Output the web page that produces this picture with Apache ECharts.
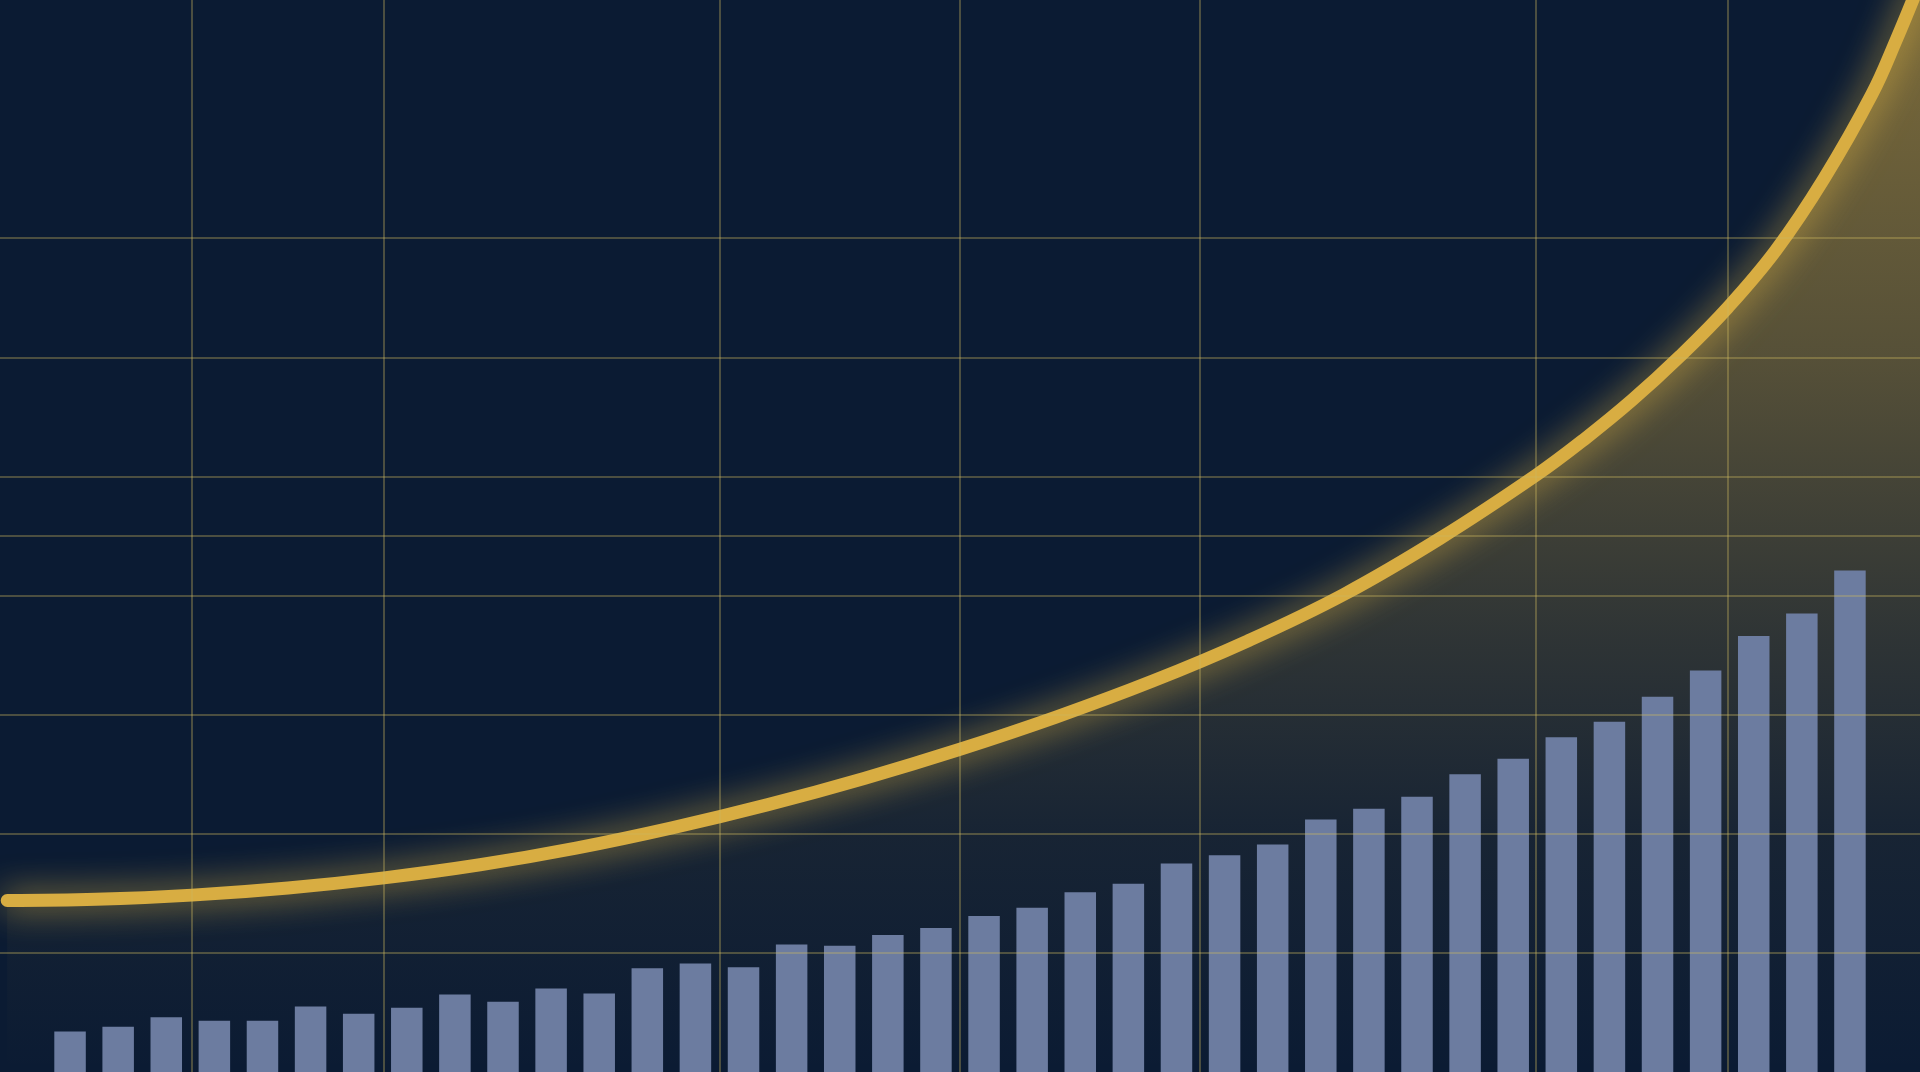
<!DOCTYPE html>
<html>
<head>
<meta charset="utf-8">
<style>
  html, body { margin: 0; padding: 0; background: #0b1b33; }
  #chart { width: 1920px; height: 1072px; }
</style>
<script src="https://cdn.jsdelivr.net/npm/echarts@6/dist/echarts.min.js"></script>
</head>
<body>
<div id="chart"></div>
<script>
// ---- data ----
const categories = ['1','2','3','4','5','6','7','8','9','10','11','12','13','14','15','16','17','18','19','20',
  '21','22','23','24','25','26','27','28','29','30','31','32','33','34','35','36','37','38'];
const barValues = [3.4, 3.8, 4.6, 4.3, 4.3, 5.5, 4.9, 5.4, 6.5, 5.9, 7.0, 6.6, 8.7, 9.1, 8.8, 10.7, 10.6, 11.5, 12.1, 13.1,
  13.8, 15.1, 15.8, 17.5, 18.2, 19.1, 21.2, 22.1, 23.1, 25.0, 26.3, 28.1, 29.4, 31.5, 33.7, 36.6, 38.5, 42.1];
const lineX = [0.15, 2, 4, 6, 8, 10, 12, 14, 16, 18, 20, 22, 24, 26, 28, 30, 32, 33, 34, 35, 36, 37, 38, 39, 39.5, 40];
const lineY = [14.4, 14.5, 14.85, 15.45, 16.3, 17.4, 18.8, 20.5, 22.45, 24.65, 27.1, 29.8, 32.8, 36.2, 40.1, 44.8,
  50.1, 53.1, 56.4, 60.1, 64.2, 69.0, 75.0, 82.1, 86.6, 91.5];
const gridXValues = [4, 8, 15, 20, 25, 32, 36];
const gridYValues = [10, 20, 30, 40, 45, 50, 60, 70];

const yMax = 90;
const xMax = 40;

const chart = echarts.init(document.getElementById('chart'), null, { renderer: 'canvas' });

const gridColor = 'rgba(205,185,95,0.45)';
const hiddenAxis = {
  axisLine: { show: false }, axisTick: { show: false },
  axisLabel: { show: false }, splitLine: { show: false }
};

const linePoints = lineX.map((x, i) => [x, lineY[i]]);

const markData = [];
gridXValues.forEach(v => markData.push({ xAxis: v }));
gridYValues.forEach(v => markData.push({ yAxis: v }));

chart.setOption({
  backgroundColor: '#0b1b33',
  animation: false,
  grid: [
    { left: 46, right: 46, top: -2, bottom: -2 },
    { left: 0, right: 0, top: -2, bottom: -2 }
  ],
  xAxis: [
    Object.assign({ type: 'category', data: categories, gridIndex: 0, boundaryGap: true }, hiddenAxis),
    Object.assign({ type: 'value', min: 0, max: xMax, gridIndex: 1 }, hiddenAxis)
  ],
  yAxis: [
    Object.assign({ type: 'value', min: 0, max: yMax, gridIndex: 0 }, hiddenAxis),
    Object.assign({ type: 'value', min: 0, max: yMax, gridIndex: 1 }, hiddenAxis)
  ],
  series: [
    {
      name: 'grid',
      type: 'line',
      xAxisIndex: 1, yAxisIndex: 1,
      data: [],
      z: 1,
      silent: true,
      markLine: {
        silent: true,
        symbol: 'none',
        label: { show: false },
        lineStyle: { color: gridColor, width: 1.5, type: 'solid' },
        emphasis: { disabled: true },
        data: markData
      }
    },
    {
      name: 'trend',
      type: 'line',
      xAxisIndex: 1, yAxisIndex: 1,
      data: linePoints,
      smooth: 0.4,
      showSymbol: false,
      clip: false,
      z: 2,
      lineStyle: {
        color: '#d8ad42',
        width: 13,
        cap: 'round',
        shadowBlur: 34,
        shadowColor: 'rgba(238,192,70,0.8)'
      },
      areaStyle: {
        color: new echarts.graphic.LinearGradient(0, 0, 0, 1, [
          { offset: 0, color: 'rgba(214,171,64,0.8)' },
          { offset: 0.35, color: 'rgba(214,171,64,0.52)' },
          { offset: 0.6, color: 'rgba(214,171,64,0.25)' },
          { offset: 0.78, color: 'rgba(214,171,64,0.09)' },
          { offset: 1, color: 'rgba(214,171,64,0)' }
        ])
      }
    },
    {
      name: 'bars',
      type: 'bar',
      xAxisIndex: 0, yAxisIndex: 0,
      data: barValues,
      barWidth: '65.5%',
      z: 3,
      itemStyle: { color: '#6c7ca0' }
    }
  ]
});
</script>
</body>
</html>
